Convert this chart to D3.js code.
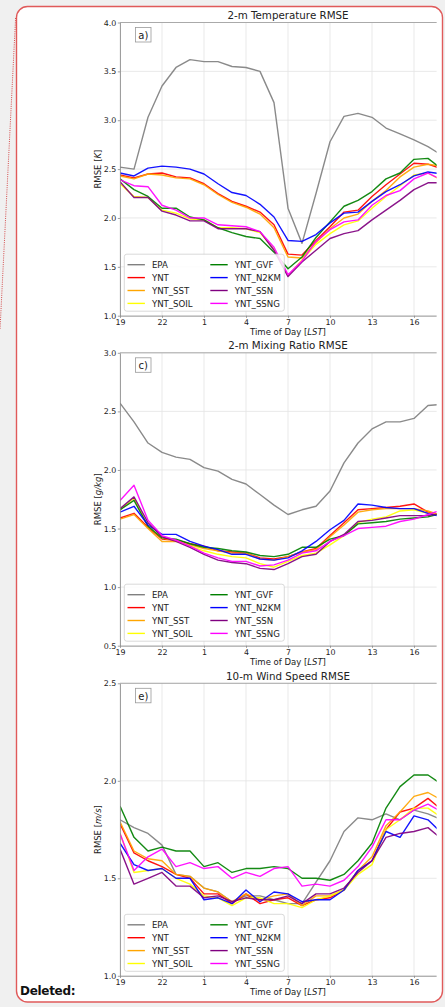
<!DOCTYPE html>
<html>
<head>
<meta charset="utf-8">
<script src="https://cdn.jsdelivr.net/npm/d3@7"></script>
<style>
  html, body { margin: 0; padding: 0; background: #f0f0f0; }
  svg { display: block; }
  text { font-family: "DejaVu Sans", sans-serif; fill: #222; }
</style>
</head>
<body>
<svg id="fig" width="445" height="1007"></svg>
<script>
// Hour of day (LST) for each sample, starting at 19 LST
const hours = [19, 20, 21, 22, 23, 0, 1, 2, 3, 4, 5, 6, 7, 8, 9, 10, 11, 12, 13, 14, 15, 16, 17, 18];
const tickHours = [19, 22, 1, 4, 7, 10, 13, 16];

const seriesNames  = ["EPA", "YNT", "YNT_SST", "YNT_SOIL", "YNT_GVF", "YNT_N2KM", "YNT_SSN", "YNT_SSNG"];
const seriesColors = ["#808080", "#ff0000", "#ffa500", "#ffff00", "#008000", "#0000ff", "#800080", "#ff00ff"];

// 2-m temperature RMSE [K]
const t2_EPA  = [2.52, 2.50, 3.03, 3.35, 3.54, 3.62, 3.60, 3.60, 3.55, 3.54, 3.50, 3.18, 2.10, 1.74, 2.25, 2.78, 3.04, 3.07, 3.03, 2.92, 2.86, 2.80, 2.73, 2.64];
const t2_YNT  = [2.44, 2.41, 2.45, 2.46, 2.42, 2.41, 2.35, 2.25, 2.17, 2.12, 2.06, 1.93, 1.63, 1.62, 1.77, 1.91, 2.06, 2.08, 2.22, 2.34, 2.45, 2.56, 2.55, 2.50];
const t2_SST  = [2.43, 2.40, 2.45, 2.44, 2.41, 2.40, 2.34, 2.24, 2.16, 2.11, 2.04, 1.90, 1.60, 1.59, 1.75, 1.89, 2.00, 2.04, 2.17, 2.28, 2.42, 2.52, 2.55, 2.53];
const t2_SOIL = [2.35, 2.22, 2.21, 2.08, 2.05, 1.99, 1.98, 1.90, 1.90, 1.89, 1.85, 1.68, 1.41, 1.57, 1.73, 1.84, 1.93, 1.97, 2.10, 2.22, 2.33, 2.44, 2.46, 2.38];
const t2_GVF  = [2.40, 2.29, 2.22, 2.10, 2.10, 2.01, 1.98, 1.90, 1.85, 1.81, 1.79, 1.65, 1.48, 1.60, 1.80, 1.96, 2.12, 2.18, 2.27, 2.40, 2.46, 2.60, 2.61, 2.50];
const t2_N2KM = [2.46, 2.43, 2.51, 2.53, 2.52, 2.50, 2.45, 2.35, 2.26, 2.23, 2.14, 2.01, 1.77, 1.76, 1.83, 1.95, 2.05, 2.06, 2.17, 2.27, 2.34, 2.43, 2.47, 2.45];
const t2_SSN  = [2.37, 2.21, 2.21, 2.07, 2.03, 1.97, 1.97, 1.89, 1.89, 1.89, 1.86, 1.67, 1.40, 1.55, 1.67, 1.79, 1.84, 1.87, 1.98, 2.08, 2.18, 2.29, 2.36, 2.36];
const t2_SSNG = [2.39, 2.33, 2.32, 2.13, 2.08, 2.00, 2.00, 1.93, 1.92, 1.91, 1.86, 1.70, 1.42, 1.56, 1.76, 1.88, 1.96, 1.98, 2.13, 2.23, 2.28, 2.40, 2.46, 2.39];

// 2-m mixing ratio RMSE [g/kg]
const q2_EPA  = [2.57, 2.41, 2.23, 2.15, 2.11, 2.09, 2.02, 1.99, 1.92, 1.88, 1.79, 1.70, 1.62, 1.66, 1.69, 1.82, 2.06, 2.23, 2.35, 2.41, 2.41, 2.44, 2.55, 2.56];
const q2_YNT  = [1.59, 1.63, 1.51, 1.41, 1.40, 1.37, 1.35, 1.31, 1.30, 1.29, 1.25, 1.24, 1.26, 1.30, 1.33, 1.44, 1.55, 1.66, 1.67, 1.68, 1.69, 1.71, 1.64, 1.61];
const q2_SST  = [1.58, 1.62, 1.50, 1.39, 1.39, 1.36, 1.33, 1.31, 1.29, 1.29, 1.24, 1.23, 1.26, 1.30, 1.32, 1.43, 1.53, 1.64, 1.66, 1.67, 1.67, 1.67, 1.65, 1.61];
const q2_SOIL = [1.66, 1.76, 1.52, 1.42, 1.40, 1.35, 1.31, 1.28, 1.26, 1.25, 1.20, 1.17, 1.22, 1.27, 1.29, 1.36, 1.44, 1.55, 1.58, 1.60, 1.65, 1.66, 1.63, 1.61];
const q2_GVF  = [1.66, 1.74, 1.52, 1.42, 1.41, 1.37, 1.34, 1.33, 1.31, 1.30, 1.27, 1.26, 1.28, 1.34, 1.34, 1.41, 1.44, 1.54, 1.55, 1.56, 1.58, 1.59, 1.60, 1.63];
const q2_N2KM = [1.64, 1.69, 1.53, 1.45, 1.45, 1.39, 1.35, 1.32, 1.28, 1.28, 1.24, 1.23, 1.25, 1.31, 1.39, 1.49, 1.57, 1.71, 1.70, 1.68, 1.67, 1.67, 1.63, 1.60];
const q2_SSN  = [1.67, 1.77, 1.55, 1.43, 1.39, 1.34, 1.28, 1.23, 1.21, 1.20, 1.16, 1.15, 1.20, 1.26, 1.28, 1.39, 1.45, 1.56, 1.57, 1.59, 1.61, 1.61, 1.61, 1.63];
const q2_SSNG = [1.74, 1.87, 1.57, 1.44, 1.40, 1.35, 1.29, 1.25, 1.22, 1.22, 1.18, 1.19, 1.23, 1.29, 1.31, 1.39, 1.44, 1.50, 1.51, 1.52, 1.56, 1.58, 1.62, 1.66];

// 10-m wind speed RMSE [m/s]
const ws_EPA  = [1.80, 1.76, 1.73, 1.67, 1.52, 1.51, 1.45, 1.43, 1.38, 1.41, 1.41, 1.39, 1.37, 1.37, 1.48, 1.59, 1.74, 1.81, 1.80, 1.83, 1.80, 1.85, 1.83, 1.80];
const ws_YNT  = [1.78, 1.63, 1.59, 1.56, 1.52, 1.50, 1.42, 1.42, 1.37, 1.42, 1.37, 1.39, 1.40, 1.36, 1.39, 1.40, 1.44, 1.54, 1.59, 1.75, 1.84, 1.86, 1.91, 1.85];
const ws_SST  = [1.79, 1.64, 1.60, 1.59, 1.52, 1.51, 1.45, 1.43, 1.38, 1.42, 1.39, 1.41, 1.42, 1.36, 1.41, 1.41, 1.44, 1.54, 1.61, 1.77, 1.84, 1.92, 1.94, 1.90];
const ws_SOIL = [1.73, 1.53, 1.54, 1.55, 1.50, 1.47, 1.41, 1.40, 1.36, 1.40, 1.40, 1.37, 1.37, 1.35, 1.39, 1.41, 1.44, 1.52, 1.57, 1.75, 1.80, 1.86, 1.86, 1.81];
const ws_GVF  = [1.87, 1.71, 1.64, 1.66, 1.64, 1.64, 1.56, 1.58, 1.53, 1.55, 1.55, 1.56, 1.55, 1.50, 1.50, 1.49, 1.52, 1.59, 1.68, 1.86, 1.97, 2.03, 2.03, 1.98];
const ws_N2KM = [1.68, 1.57, 1.54, 1.55, 1.50, 1.50, 1.39, 1.40, 1.37, 1.44, 1.38, 1.43, 1.42, 1.38, 1.39, 1.39, 1.44, 1.54, 1.59, 1.74, 1.71, 1.82, 1.80, 1.73];
const ws_SSN  = [1.65, 1.47, 1.50, 1.53, 1.46, 1.46, 1.40, 1.41, 1.38, 1.40, 1.39, 1.39, 1.41, 1.37, 1.42, 1.42, 1.45, 1.53, 1.59, 1.71, 1.73, 1.74, 1.76, 1.70];
const ws_SSNG = [1.73, 1.54, 1.61, 1.65, 1.56, 1.58, 1.55, 1.56, 1.50, 1.53, 1.51, 1.55, 1.56, 1.46, 1.47, 1.46, 1.49, 1.56, 1.66, 1.80, 1.80, 1.85, 1.88, 1.84];

const panels = [
  { tag: "a)", title: "2-m Temperature RMSE", unit: "K", yDomain: [1.0, 4.0], yTicks: d3.range(1.0, 4.01, 0.5),
    top: 22.5, bottom: 315.7,
    series: [t2_EPA, t2_YNT, t2_SST, t2_SOIL, t2_GVF, t2_N2KM, t2_SSN, t2_SSNG] },
  { tag: "c)", title: "2-m Mixing Ratio RMSE", unit: "g/kg", yDomain: [0.5, 3.0], yTicks: d3.range(0.5, 3.01, 0.5),
    top: 352.8, bottom: 645.7,
    series: [q2_EPA, q2_YNT, q2_SST, q2_SOIL, q2_GVF, q2_N2KM, q2_SSN, q2_SSNG] },
  { tag: "e)", title: "10-m Wind Speed RMSE", unit: "m/s", yDomain: [1.0, 2.5], yTicks: d3.range(1.0, 2.51, 0.5),
    top: 683.3, bottom: 975.8,
    series: [ws_EPA, ws_YNT, ws_SST, ws_SOIL, ws_GVF, ws_N2KM, ws_SSN, ws_SSNG] }
];

const svg = d3.select("#fig");

// framed page area
svg.append("rect").attr("x", 16.5).attr("y", 6.5).attr("width", 426).attr("height", 995.5)
  .attr("rx", 11).attr("fill", "#fff").attr("stroke", "#e05a5a").attr("stroke-width", 1.4);

// dotted connector on the left margin
svg.append("line").attr("x1", 15.6).attr("y1", 18).attr("x2", 0).attr("y2", 330)
  .attr("stroke", "#d03a3a").attr("stroke-width", 0.9).attr("stroke-dasharray", "1,1.2");

svg.append("text").attr("x", 20).attr("y", 995)
  .style("font-family", "'DejaVu Sans', sans-serif").style("font-weight", "bold")
  .style("font-size", "12px").style("letter-spacing", "-0.3px").style("fill", "#111").text("Deleted:");

// everything of the figure is cut at the right side of the frame
const defs = svg.append("defs");
defs.append("clipPath").attr("id", "figClip")
  .append("rect").attr("x", 0).attr("y", 0).attr("width", 436.6).attr("height", 1007);

const fig = svg.append("g").attr("clip-path", "url(#figClip)");

const x = d3.scaleLinear().domain([0, 24]).range([120, 456]);
const tickIdx = tickHours.map(h => hours.indexOf(h));

panels.forEach((p, pi) => {
  const y = d3.scaleLinear().domain(p.yDomain).range([p.bottom, p.top]);
  const g = fig.append("g");
  const left = x.range()[0], right = x.range()[1];

  defs.append("clipPath").attr("id", "plot" + pi)
    .append("rect").attr("x", left).attr("y", p.top).attr("width", right - left).attr("height", p.bottom - p.top);

  // grid
  g.append("g").selectAll("line").data(tickIdx).join("line")
    .attr("x1", d => x(d)).attr("x2", d => x(d)).attr("y1", p.top).attr("y2", p.bottom)
    .attr("stroke", "#e3e3e3").attr("stroke-width", 0.8);
  g.append("g").selectAll("line").data(p.yTicks).join("line")
    .attr("x1", left).attr("x2", right).attr("y1", d => y(d)).attr("y2", d => y(d))
    .attr("stroke", "#e3e3e3").attr("stroke-width", 0.8);

  // series
  const line = d3.line().x((d, i) => x(i)).y(d => y(d));
  const lines = g.append("g").attr("clip-path", "url(#plot" + pi + ")");
  p.series.forEach((vals, k) => {
    lines.append("path").datum(vals).attr("d", line)
      .attr("fill", "none").attr("stroke", seriesColors[k]).attr("stroke-width", 1.4)
      .attr("stroke-opacity", 0.92).attr("stroke-linejoin", "round");
  });

  // axes
  const xAxis = d3.axisBottom(x).tickValues(tickIdx).tickFormat(i => String(hours[i]))
    .tickSizeInner(2.2).tickSizeOuter(0).tickPadding(1.5);
  const gx = g.append("g").attr("transform", `translate(0,${p.bottom})`).call(xAxis);
  const yAxis = d3.axisLeft(y).tickValues(p.yTicks).tickFormat(d3.format(".1f"))
    .tickSizeInner(2.2).tickSizeOuter(0).tickPadding(1.5);
  const gy = g.append("g").attr("transform", `translate(${left},0)`).call(yAxis);
  [gx, gy].forEach(ax => {
    ax.select(".domain").attr("stroke", "#888").attr("stroke-width", 0.8);
    ax.selectAll(".tick line").attr("stroke", "#888").attr("stroke-width", 0.8);
    ax.selectAll(".tick text").style("font-family", "'DejaVu Sans', sans-serif")
      .style("font-size", "7.9px").attr("fill", "#333");
  });
  // top spine
  g.append("line").attr("x1", left).attr("x2", right).attr("y1", p.top).attr("y2", p.top)
    .attr("stroke", "#999").attr("stroke-width", 0.8);

  // title
  g.append("text").attr("x", (left + right) / 2).attr("y", p.top - 3.4)
    .attr("text-anchor", "middle").style("font-size", "10.3px").text(p.title);

  // axis labels
  const xl = g.append("text").attr("x", (left + right) / 2).attr("y", p.bottom + 19)
    .attr("text-anchor", "middle").style("font-size", "8.5px");
  xl.append("tspan").text("Time of Day [");
  xl.append("tspan").style("font-style", "italic").text("LST");
  xl.append("tspan").text("]");

  const ymid = (p.top + p.bottom) / 2;
  const yl = g.append("text").attr("transform", `translate(101,${ymid}) rotate(-90)`)
    .attr("text-anchor", "middle").style("font-size", "8.5px");
  yl.append("tspan").text("RMSE [");
  yl.append("tspan").style("font-style", "italic").text(p.unit);
  yl.append("tspan").text("]");

  // panel tag
  g.append("rect").attr("x", 135.5).attr("y", p.top + 5).attr("width", 15.5).attr("height", 14.5)
    .attr("fill", "#fff").attr("stroke", "#999").attr("stroke-width", 0.8);
  g.append("text").attr("x", 143.3).attr("y", p.top + 16.2).attr("text-anchor", "middle")
    .style("font-size", "10px").text(p.tag);

  // legend, lower left, two columns
  const lgW = 160, lgH = 57;
  const lgX = left + 4.3, lgY = p.bottom - 4.5 - lgH;
  const lg = g.append("g");
  lg.append("rect").attr("x", lgX).attr("y", lgY).attr("width", lgW).attr("height", lgH).attr("rx", 2.5)
    .attr("fill", "#fff").attr("fill-opacity", 0.85).attr("stroke", "#cfcfcf").attr("stroke-width", 0.8);
  seriesNames.forEach((name, k) => {
    const col = Math.floor(k / 4), row = k % 4;
    const hx = col === 0 ? lgX + 3.2 : lgX + 86;
    const cy = lgY + 10.5 + row * 12.9;
    lg.append("line").attr("x1", hx).attr("x2", hx + 17.4).attr("y1", cy).attr("y2", cy)
      .attr("stroke", seriesColors[k]).attr("stroke-width", 1.4);
    lg.append("text").attr("x", hx + 24.4).attr("y", cy + 3.1)
      .style("font-size", "8.6px").text(name);
  });
});
</script>
</body>
</html>
